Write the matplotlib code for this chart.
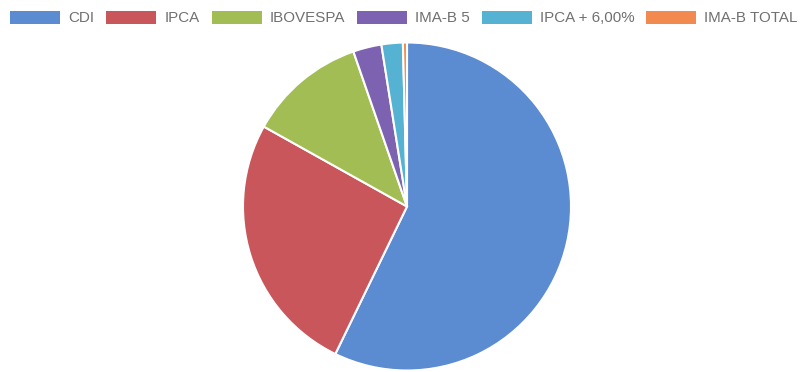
import matplotlib
matplotlib.use("Agg")
import matplotlib.pyplot as plt
from matplotlib.patches import Patch

categories = ["CDI", "IPCA", "IBOVESPA", "IMA-B 5", "IPCA + 6,00%", "IMA-B TOTAL"]
values = [57.2, 25.9, 11.6, 2.8, 2.1, 0.4]
colors = ["#5b8bd0", "#c8565b", "#a3bd55", "#7c62b0", "#55b2d2", "#f28a4f"]

plt.rcParams['font.family'] = ['Liberation Sans', 'DejaVu Sans']

fig = plt.figure(figsize=(8.02, 3.72), dpi=100)
ax = fig.add_axes([0, 0, 1, 1])
ax.pie(values, colors=colors, startangle=90, counterclock=False,
       center=(407, 372 - 206.5), radius=164,
       wedgeprops=dict(edgecolor="white", linewidth=1.5))
ax.set_xlim(0, 802)
ax.set_ylim(0, 372)
ax.set_aspect('equal')
ax.axis('off')

fs = 10.9
px = fs * 100 / 72.0
handles = [Patch(facecolor=c, edgecolor='none') for c in colors]
fig.legend(handles, categories, loc='center', bbox_to_anchor=(404 / 802, 1 - 18 / 372),
           ncol=6, frameon=False, fontsize=fs, labelcolor="#707070",
           handlelength=50 / px, handleheight=14 / px, handletextpad=8 / px,
           columnspacing=12 / px, borderaxespad=0, borderpad=0)

fig.savefig("out.png", dpi=100)
